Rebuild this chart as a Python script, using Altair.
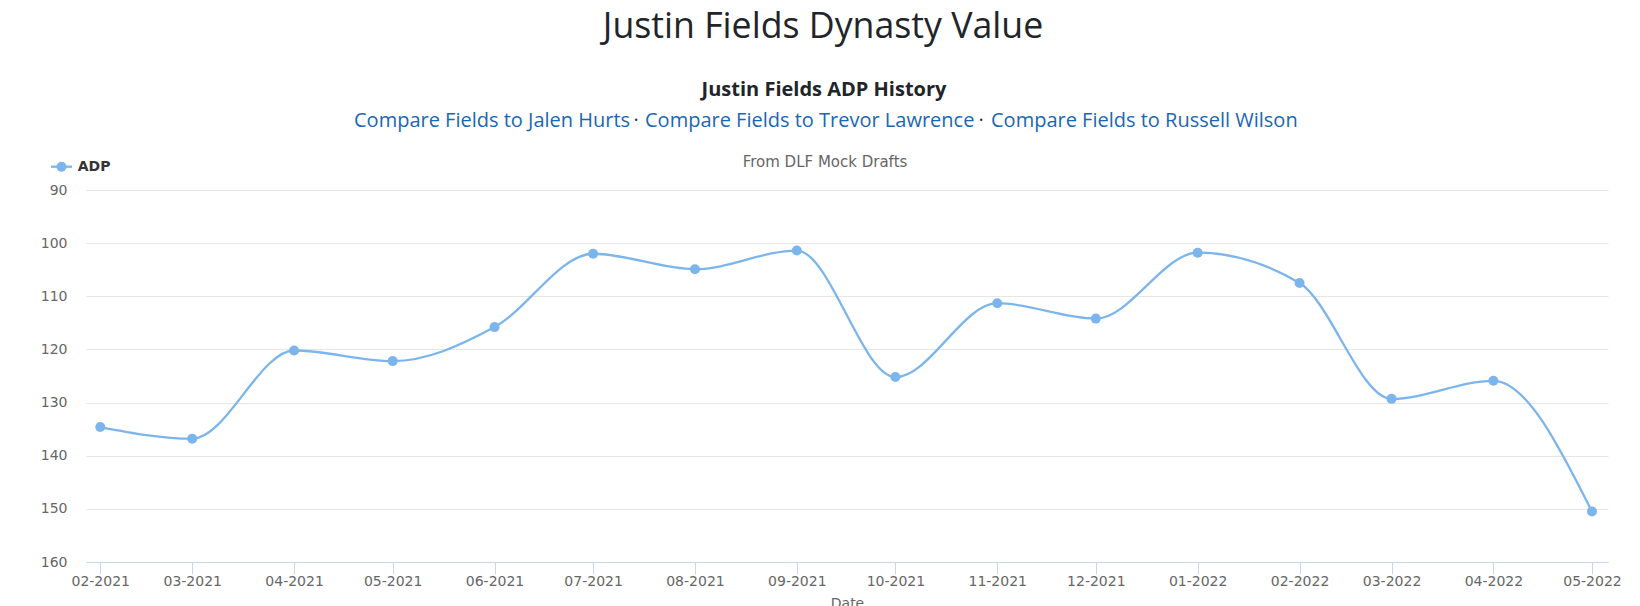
import altair as alt
import pandas as pd

# ---- data ----
dates = ["2021-02-01", "2021-03-01", "2021-04-01", "2021-05-01", "2021-06-01",
         "2021-07-01", "2021-08-01", "2021-09-01", "2021-10-01", "2021-11-01",
         "2021-12-01", "2022-01-01", "2022-02-01", "2022-03-01", "2022-04-01",
         "2022-05-01"]
adp = [134.6, 136.8, 120.2, 122.2, 115.8, 102.0, 104.9, 101.4,
       125.2, 111.3, 114.2, 101.8, 107.5, 129.3, 125.9, 150.5]
y_ticks = [90, 100, 110, 120, 130, 140, 150, 160]

main_title = ["Justin Fields Dynasty Value"]
sub_title = ["Justin Fields ADP History"]
links = ["Compare Fields to Jalen Hurts", "Compare Fields to Trevor Lawrence",
         "Compare Fields to Russell Wilson"]
source_note = ["From DLF Mock Drafts"]
series_name = ["ADP"]

LINE = "#7cb5ec"
W, H = 1522, 372

df = pd.DataFrame({"Date": dates, "ADP": adp})

x_ticks = [alt.DateTime(year=int(d[:4]), month=int(d[5:7]), date=1, utc=True) for d in dates]

x_enc = alt.X(
    "Date:T",
    title="Date",
    scale=alt.Scale(
        type="utc",
        domain=[alt.DateTime(year=2021, month=1, date=27, hours=16, utc=True),
                alt.DateTime(year=2022, month=5, date=5, hours=21, utc=True)],
        nice=False,
    ),
    axis=alt.Axis(
        values=x_ticks,
        labelExpr="utcFormat(datum.value, '%m-%Y')",
        grid=False,
        domainColor="#ccd6eb",
        tickColor="#ccd6eb",
        tickSize=12,
        labelPadding=0,
        labelFont="DejaVu Sans",
        labelFontSize=14,
        labelColor="#666666",
        titleFont="DejaVu Sans",
        titleFontSize=14,
        titleFontWeight="normal",
        titleColor="#666666",
        titlePadding=8,
        labelOverlap=False,
    ),
)
y_enc = alt.Y(
    "ADP:Q",
    title=None,
    scale=alt.Scale(domain=[90, 160], reverse=True, nice=False, zero=False),
    axis=alt.Axis(
        values=y_ticks,
        grid=True,
        gridColor="#e6e6e6",
        domain=False,
        ticks=False,
        labelPadding=19,
        labelFont="DejaVu Sans",
        labelFontSize=14,
        labelColor="#666666",
    ),
)

base = alt.Chart(df)
line = base.mark_line(color=LINE, strokeWidth=2.3, interpolate="monotone").encode(x=x_enc, y=y_enc)
pts = base.mark_circle(color=LINE, size=100, opacity=1).encode(x="Date:T", y="ADP:Q")


def txt(values, x, y, size, color, weight="normal", align="center", font="Open Sans"):
    return alt.Chart(pd.DataFrame({"t": values})).mark_text(
        font=font, fontSize=size, color=color, fontWeight=weight,
        align=align, baseline="middle",
    ).encode(text="t:N", x=alt.value(x), y=alt.value(y))


title_l = txt(main_title, 737, -163, 35.7, "#212529")
sub_l = txt(sub_title, 738, -100, 20, "#212529", weight="bold")
link1 = txt([links[0]], 268, -69, 20, "#1a66b5", align="left")
dot1 = txt(["·"], 550, -69, 20, "#333333")
link2 = txt([links[1]], 559, -69, 20, "#1a66b5", align="left")
dot2 = txt(["·"], 895, -69, 20, "#333333")
link3 = txt([links[2]], 905, -69, 20, "#1a66b5", align="left")
note = txt(source_note, 739, -28, 15, "#666666", font="DejaVu Sans")

leg_rule = alt.Chart(pd.DataFrame({"s": series_name})).mark_rule(color=LINE, strokeWidth=2.3).encode(
    x=alt.value(-35), x2=alt.value(-14), y=alt.value(-23.3))
leg_pt = alt.Chart(pd.DataFrame({"s": series_name})).mark_circle(color=LINE, size=100, opacity=1).encode(
    x=alt.value(-24.5), y=alt.value(-23.3))
leg_txt = txt(series_name, -8.3, -23.3, 14, "#333333", weight="bold", align="left", font="DejaVu Sans")

chart = alt.layer(
    line, pts, title_l, sub_l, link1, dot1, link2, dot2, link3, note, leg_rule, leg_pt, leg_txt
).properties(
    width=W, height=H,
    autosize=alt.AutoSizeParams(type="none"),
    padding={"left": 86, "top": 190, "right": 32, "bottom": 44},
    background="white",
).configure_view(stroke=None)

chart.save("out.html", embed_options={"renderer": "svg", "actions": False})
